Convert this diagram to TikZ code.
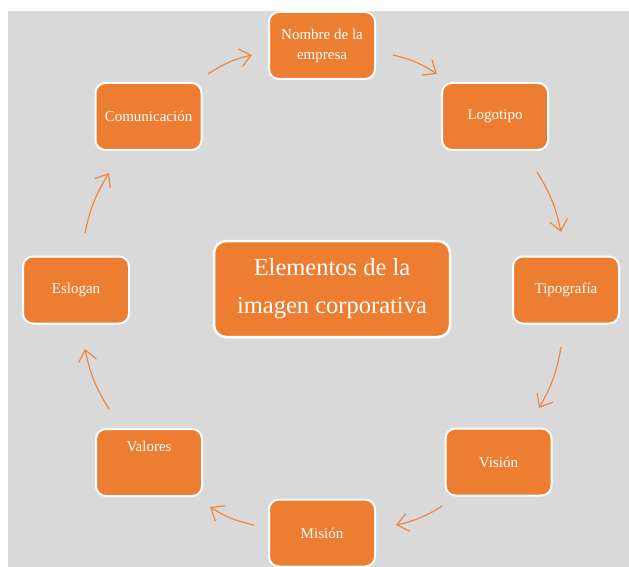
\documentclass[tikz,border=0pt]{standalone}
\usepackage{fontspec}
\setmainfont{Liberation Serif}
\usetikzlibrary{arrows.meta}
\definecolor{bggray}{HTML}{D9D9D9}
\definecolor{boxorange}{HTML}{ED7D31}
\definecolor{arroworange}{HTML}{EE8840}
\tikzset{
  smallbox/.style={draw=white, line width=2pt, fill=boxorange, rounded corners=10pt,
    minimum width=106pt, minimum height=67pt, inner sep=0pt, text=white,
    font=\fontsize{15}{20}\selectfont, align=center},
  bigbox/.style={draw=white, line width=2.5pt, fill=boxorange, rounded corners=12pt,
    minimum width=236pt, minimum height=96pt, inner sep=0pt, text=white,
    font=\fontsize{24.5}{38}\selectfont, align=center},
  flowarrow/.style={draw=arroworange, line width=1.2pt, bend left=10,
    -{Straight Barb[length=11pt,width=18pt,line width=1.2pt]}}
}
\begin{document}
\begin{tikzpicture}[x=1pt,y=-1pt]
\useasboundingbox (0,0) rectangle (629,567);
\fill[white] (0,0) rectangle (629,567);
\fill[bggray] (8,11) rectangle (629,567);

\node[smallbox] (nombre) at (322,45.5) {Nombre de la\\empresa};
\node[smallbox] (logo) at (495,116.5) {Logotipo};
\node[smallbox] (comu) at (148.5,116.5) {Comunicación};
\node[smallbox] (tipo) at (566,290) {Tipografía};
\node[smallbox] (eslo) at (76,290) {Eslogan};
\node[smallbox] (vision) at (498.5,462) {Visión};
\node[smallbox] (mision) at (322,533) {Misión};
\node[smallbox, text height=10pt, text depth=32pt] (valores) at (149,462.5) {Valores};
\node[bigbox] (centro) at (332,289) {Elementos de la\\imagen corporativa};

\coordinate (a1s) at (208,74);  \coordinate (a1e) at (252,55);
\coordinate (a2s) at (393,55);  \coordinate (a2e) at (437,74);
\coordinate (a3s) at (537,172); \coordinate (a3e) at (561,232);
\coordinate (a4s) at (561,347); \coordinate (a4e) at (539,408);
\coordinate (a5s) at (442,506); \coordinate (a5e) at (396,525);
\coordinate (a6s) at (254,525); \coordinate (a6e) at (210,507);
\coordinate (a7s) at (109,409); \coordinate (a7e) at (85,349);
\coordinate (a8s) at (85,233);  \coordinate (a8e) at (109,173);

\draw[flowarrow] (a1s) to (a1e);
\draw[flowarrow] (a2s) to (a2e);
\draw[flowarrow] (a3s) to (a3e);
\draw[flowarrow] (a4s) to (a4e);
\draw[flowarrow] (a5s) to (a5e);
\draw[flowarrow] (a6s) to (a6e);
\draw[flowarrow] (a7s) to (a7e);
\draw[flowarrow] (a8s) to (a8e);
\end{tikzpicture}
\end{document}
